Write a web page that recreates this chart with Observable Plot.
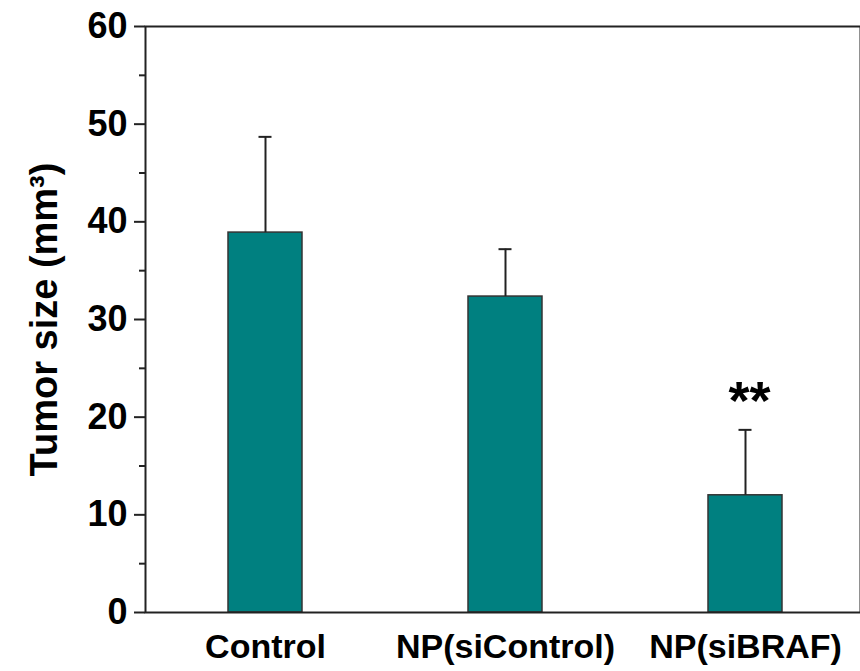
<!DOCTYPE html>
<html>
<head>
<meta charset="utf-8">
<script src="https://cdn.jsdelivr.net/npm/d3@7"></script>
<script src="https://cdn.jsdelivr.net/npm/@observablehq/plot@0.6"></script>
<style>
  html, body { margin: 0; padding: 0; background: #fff; }
  svg { display: block; }
</style>
</head>
<body>
<div id="chart"></div>
<script>
const categories = ["Control", "NP(siControl)", "NP(siBRAF)"];
const means = [38.9, 32.35, 12.0];
const errorTops = [48.7, 37.2, 18.7];
const significance = ["", "", "**"];
const majorTicks = [0, 10, 20, 30, 40, 50, 60];
const minorTicks = [5, 15, 25, 35, 45, 55];

const data = categories.map((c, i) => ({
  category: c, mean: means[i], upper: errorTops[i], sig: significance[i]
}));

const font = "'Liberation Sans', Arial, Helvetica, sans-serif";
const ink = "#222";

const chart = Plot.plot({
  width: 860,
  height: 671,
  marginTop: 26,
  marginBottom: 59,
  marginLeft: 145,
  marginRight: 0,
  style: { fontFamily: font, fontWeight: "bold", background: "#fff", overflow: "visible" },
  x: { domain: categories, range: [145, 865], paddingInner: 0.692, paddingOuter: 0.346 },
  y: { domain: [0, 60], range: [612, 26] },
  marks: [
    Plot.barY(data, { x: "category", y: "mean", fill: "#008080", stroke: "#333", strokeWidth: 1.5 }),
    Plot.ruleX(data, { x: "category", y1: "mean", y2: "upper", stroke: ink, strokeWidth: 2 }),
    Plot.tickY(data, { x: "category", y: "upper", stroke: ink, strokeWidth: 2, insetLeft: 30.5, insetRight: 30.5 }),
    Plot.text(data, { x: "category", y: "upper", text: "sig", dy: -11, dx: 4, lineAnchor: "bottom", fontSize: 54, fontWeight: "bold", fill: "#000", style: "letter-spacing: 4px" }),
    Plot.axisY({ ticks: minorTicks, tickSize: 6, strokeWidth: 2, stroke: ink, text: null, label: null }),
    Plot.axisY({ ticks: majorTicks, tickSize: 11, tickPadding: 7, strokeWidth: 2, stroke: ink, fontSize: 36, fontWeight: "bold", fill: "#000", label: null }),
    Plot.axisX({ tickSize: 0, tickPadding: 21, fontSize: 34, fontWeight: "bold", fill: "#000", label: null }),
    Plot.frame({ stroke: ink, strokeWidth: 2 }),
    Plot.text(["Tumor size (mm³)"], { frameAnchor: "left", textAnchor: "middle", dx: -89, rotate: -90, lineAnchor: "bottom", text: d => d, fontSize: 38, fontWeight: "bold", fill: "#000" })
  ]
});
document.getElementById("chart").appendChild(chart);
</script>
</body>
</html>
